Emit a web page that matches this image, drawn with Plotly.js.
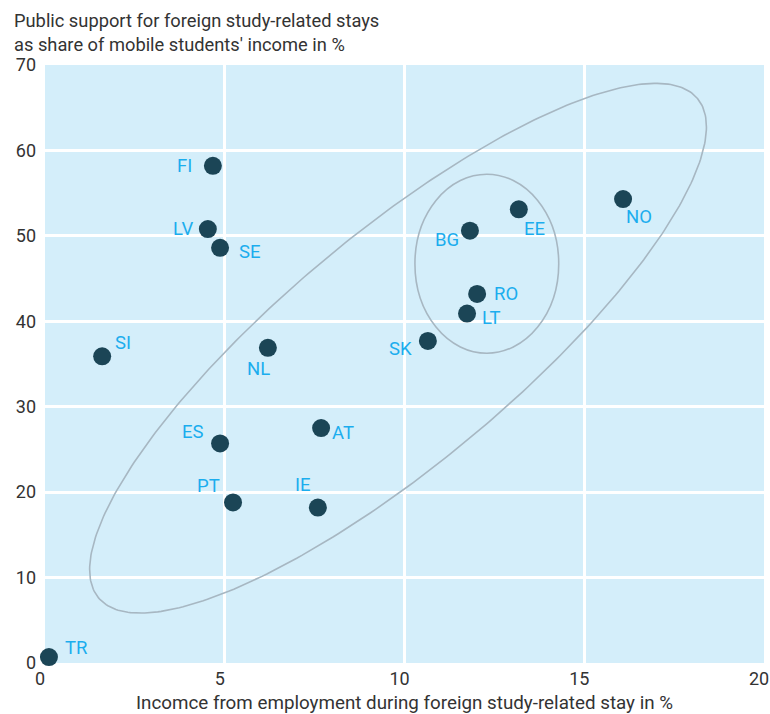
<!DOCTYPE html>
<html>
<head>
<meta charset="utf-8">
<script src="https://cdn.plot.ly/plotly-3.0.1.min.js"></script>
<style>html,body{margin:0;padding:0;background:#fff;}#chart{width:770px;height:714px;}</style>
</head>
<body>
<div id="chart"></div>
<script>
// Data
const countries = ["FI","LV","SE","SI","NL","ES","AT","PT","IE","TR","BG","EE","RO","LT","SK","NO"];
const employmentIncome = [4.67, 4.53, 4.87, 1.59, 6.20, 4.87, 7.68, 5.23, 7.59, 0.11, 11.82, 13.18, 12.02, 11.74, 10.65, 16.08];
const publicSupport = [58.2, 50.8, 48.6, 35.9, 36.9, 25.7, 27.5, 18.8, 18.2, 0.7, 50.6, 53.1, 43.2, 40.9, 37.7, 54.3];
const xTicks = [0, 5, 10, 15, 20];
const yTicks = [0, 10, 20, 30, 40, 50, 60, 70];

// Label offsets (pixels) - styling only
const labelOffset = {
  FI:[-28,0], LV:[-25,0], SE:[30,4], SI:[21,-13], NL:[-9,21], ES:[-27,-11],
  AT:[22,5], PT:[-25,-16], IE:[-15,-23], TR:[28,-9], BG:[-23,9], EE:[16,20],
  RO:[29,0], LT:[24,4], SK:[-27,8], NO:[16,18]
};

// Ellipse outlines (annotation shapes): centre and conjugate semi-axes in data units
const bigEllipse = {cx: 9.82, cy: 36.85, ax: 8.33, ay: 29.23, bx: -2.05, by: 10.34};
const smallEllipse = {x0: 10.29, x1: 14.29, y0: 36.26, y1: 57.22};

const ex = [], ey = [];
for (let i = 0; i <= 360; i++) {
  const t = i * Math.PI / 180;
  ex.push(bigEllipse.cx + bigEllipse.ax * Math.cos(t) + bigEllipse.bx * Math.sin(t));
  ey.push(bigEllipse.cy + bigEllipse.ay * Math.cos(t) + bigEllipse.by * Math.sin(t));
}

const FONT = "Roboto, 'Liberation Sans', sans-serif";
const labelColor = "#1badee";
const textColor = "#333333";

const traces = [
  {
    x: ex, y: ey, mode: "lines", type: "scatter",
    line: {color: "#a7b7c2", width: 1.6}, hoverinfo: "skip", showlegend: false
  },
  {
    x: employmentIncome, y: publicSupport, text: countries,
    mode: "markers", type: "scatter", cliponaxis: false,
    marker: {size: 18, color: "#1b4556"}, showlegend: false
  }
];

const annotations = countries.map((c, i) => ({
  x: employmentIncome[i], y: publicSupport[i], xref: "x", yref: "y",
  text: c, showarrow: false,
  xshift: labelOffset[c][0], yshift: -labelOffset[c][1],
  font: {family: FONT, size: 18.5, color: labelColor}
}));

annotations.push({
  text: "Public support for foreign study-related stays<br>as share of mobile students' income in %",
  xref: "paper", yref: "paper", x: (12 - 45) / 719, y: 1 + (65 - 8) / 598,
  xanchor: "left", yanchor: "top", align: "left", showarrow: false,
  font: {family: FONT, size: 18.3, color: textColor}
});

const layout = {
  width: 770, height: 714,
  margin: {l: 45, r: 6, t: 65, b: 51},
  paper_bgcolor: "#ffffff",
  plot_bgcolor: "#d4eefa",
  xaxis: {
    range: [0, 20], tickvals: xTicks, ticktext: xTicks.map(String),
    showgrid: true, gridcolor: "#ffffff", gridwidth: 3,
    zeroline: false, showline: false, ticks: "",
    ticklabelshift: -5, ticklabelstandoff: 3, ticklabeloverflow: "allow",
    tickfont: {family: FONT, size: 18, color: textColor},
    title: {text: "Incomce from employment during foreign study-related stay in %",
            font: {family: FONT, size: 18.8, color: textColor}, standoff: 8},
    fixedrange: true
  },
  yaxis: {
    range: [0, 70], tickvals: yTicks, ticktext: yTicks.map(String),
    showgrid: true, gridcolor: "#ffffff", gridwidth: 3,
    zeroline: false, showline: false, ticks: "",
    tickfont: {family: FONT, size: 18, color: textColor},
    ticklabelstandoff: 8,
    fixedrange: true
  },
  shapes: [{
    type: "circle", xref: "x", yref: "y",
    x0: smallEllipse.x0, x1: smallEllipse.x1, y0: smallEllipse.y0, y1: smallEllipse.y1,
    line: {color: "#a7b7c2", width: 1.6}, layer: "above"
  }],
  annotations: annotations,
  showlegend: false
};

Plotly.newPlot("chart", traces, layout, {displayModeBar: false, staticPlot: true});
</script>
</body>
</html>
